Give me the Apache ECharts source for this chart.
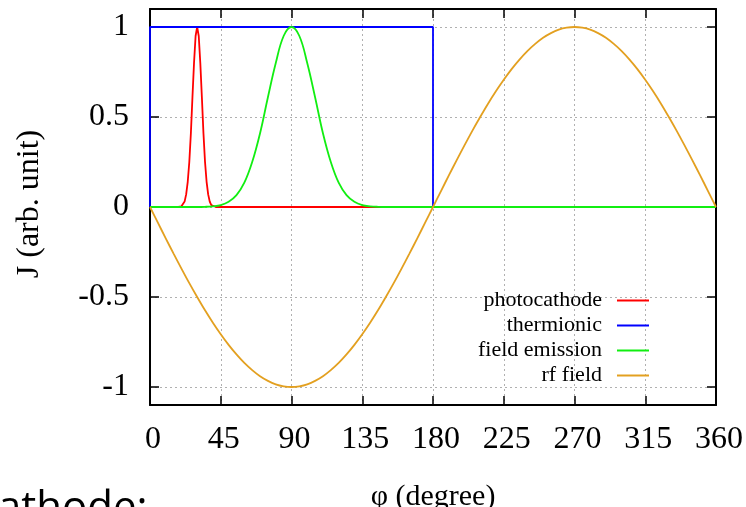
<!DOCTYPE html>
<html>
<head>
<meta charset="utf-8">
<script src="https://cdn.jsdelivr.net/npm/echarts@6/dist/echarts.min.js"></script>
<style>
html,body{margin:0;padding:0;background:#fff;}
#chart{width:746px;height:507px;}
</style>
</head>
<body>
<div id="chart"></div>
<script>
// x ticks (degrees) and y ticks
var xTicks = [0, 45, 90, 135, 180, 225, 270, 315, 360];
var yTicks = [-1, -0.5, 0, 0.5, 1];

// photocathode (narrow pulse near 30 deg)
var photoPhi = [0, 18, 20, 21, 22, 23, 24, 25, 26, 27, 28, 29, 30, 31, 32, 33, 34, 35, 36, 37, 38, 39, 40, 42, 360];
var photoJ   = [0, 0, 0.004, 0.01, 0.03, 0.07, 0.14, 0.25, 0.41, 0.61, 0.80, 0.95, 1, 0.95, 0.80, 0.61, 0.41, 0.25, 0.14, 0.07, 0.03, 0.01, 0.004, 0, 0];

// thermionic (square, 0..180 deg)
var thermPhi = [0, 0, 180, 180, 360];
var thermJ   = [0, 1, 1, 0, 0];

// field emission (broad pulse near 90 deg)
var fieldPhi = [0, 30, 35, 40, 45, 50, 55, 60, 65, 70, 75, 80, 85, 90, 95, 100, 105, 110, 115, 120, 125, 130, 135, 140, 145, 150, 360];
var fieldJ   = [0, 0, 0.001, 0.004, 0.011, 0.029, 0.066, 0.135, 0.25, 0.41, 0.61, 0.80, 0.95, 1, 0.95, 0.80, 0.61, 0.41, 0.25, 0.135, 0.066, 0.029, 0.011, 0.004, 0.001, 0, 0];

// rf field
var rfPhi = [0,5,10,15,20,25,30,35,40,45,50,55,60,65,70,75,80,85,90,95,100,105,110,115,120,125,130,135,140,145,150,155,160,165,170,175,180,
             185,190,195,200,205,210,215,220,225,230,235,240,245,250,255,260,265,270,275,280,285,290,295,300,305,310,315,320,325,330,335,340,345,350,355,360];
var rfJ   = [0,-0.087,-0.174,-0.259,-0.342,-0.423,-0.5,-0.574,-0.643,-0.707,-0.766,-0.819,-0.866,-0.906,-0.940,-0.966,-0.985,-0.996,-1,-0.996,-0.985,-0.966,-0.940,-0.906,-0.866,-0.819,-0.766,-0.707,-0.643,-0.574,-0.5,-0.423,-0.342,-0.259,-0.174,-0.087,0,
             0.087,0.174,0.259,0.342,0.423,0.5,0.574,0.643,0.707,0.766,0.819,0.866,0.906,0.940,0.966,0.985,0.996,1,0.996,0.985,0.966,0.940,0.906,0.866,0.819,0.766,0.707,0.643,0.574,0.5,0.423,0.342,0.259,0.174,0.087,0];

var seriesNames = ['photocathode', 'thermionic', 'field emission', 'rf field'];
var seriesColors = ['#ff0000', '#0000ff', '#11ee11', '#e3a020'];

function pairs(xs, ys) { return xs.map(function (x, i) { return [x, ys[i]]; }); }

var serif = 'Liberation Serif, Times New Roman, serif';
var chart = echarts.init(document.getElementById('chart'));

var gridLine = { show: true, lineStyle: { color: '#b0b0b0', type: [2, 3], width: 1 } };
var border = { show: true, onZero: false, lineStyle: { color: '#000', width: 2 } };

function mkLine(name, xs, ys, idx, smooth) {
  return {
    name: name, type: 'line', data: pairs(xs, ys), showSymbol: false, symbol: 'none',
    smooth: smooth || false, clip: true, animation: false,
    lineStyle: { color: seriesColors[idx], width: 1.8 },
    itemStyle: { color: seriesColors[idx] },
    z: 2 + idx
  };
}

chart.setOption({
  animation: false,
  backgroundColor: '#fff',
  grid: { left: 150, right: 30, top: 9, bottom: 102, containLabel: false },
  xAxis: [
    {
      type: 'value', position: 'bottom', min: 0, max: 360, interval: 45,
      axisLine: border,
      axisTick: { show: true, inside: true, length: 9, lineStyle: { color: '#000', width: 1.5 } },
      axisLabel: { show: true, margin: 19, color: '#000', fontFamily: serif, fontSize: 32, padding: [0, 0, 0, 6] },
      splitLine: gridLine
    },
    {
      type: 'value', position: 'top', min: 0, max: 360, interval: 45,
      axisLine: border,
      axisTick: { show: true, inside: true, length: 9, lineStyle: { color: '#000', width: 1.5 } },
      axisLabel: { show: false },
      splitLine: { show: false }
    }
  ],
  yAxis: [
    {
      type: 'value', position: 'left', min: -1.1, max: 1.1,
      axisLine: border,
      axisTick: { show: true, inside: true, length: 9, customValues: yTicks, lineStyle: { color: '#000', width: 1.5 } },
      axisLabel: { show: true, margin: 21, color: '#000', fontFamily: serif, fontSize: 32, customValues: yTicks,
        formatter: function (v) { return String(v); } },
      splitLine: gridLine
    },
    {
      type: 'value', position: 'right', min: -1.1, max: 1.1,
      axisLine: border,
      axisTick: { show: true, inside: true, length: 9, customValues: yTicks, lineStyle: { color: '#000', width: 1.5 } },
      axisLabel: { show: false, customValues: yTicks },
      splitLine: { show: false }
    }
  ],
  legend: {
    data: seriesNames.map(function (n) { return { name: n, icon: 'rect' }; }),
    orient: 'vertical',
    right: 92, top: 283,
    align: 'right',
    itemWidth: 32, itemHeight: 2, itemGap: 0,
    textStyle: { fontFamily: serif, fontSize: 22, color: '#000', lineHeight: 25, padding: [0, 10, 0, 0] },
    inactiveColor: '#ccc'
  },
  series: [
    mkLine(seriesNames[0], photoPhi, photoJ, 0, false),
    mkLine(seriesNames[1], thermPhi, thermJ, 1, false),
    mkLine(seriesNames[2], fieldPhi, fieldJ, 2, 0.4),
    mkLine(seriesNames[3], rfPhi, rfJ, 3, 0.3)
  ],
  graphic: [
    { type: 'text', x: 30, y: 204, rotation: Math.PI / 2,
      style: { text: 'J (arb. unit)', font: '32px ' + serif, fill: '#000', align: 'center', verticalAlign: 'middle' } },
    { type: 'text', x: 433, y: 482,
      style: { text: '\u03c6 (degree)', font: '30px ' + serif, fill: '#000', align: 'center', verticalAlign: 'top' } },
    { type: 'text', x: -2, y: 509,
      style: { text: 'athode:', font: '42px "Open Sans", sans-serif', fill: '#000', align: 'left', verticalAlign: 'middle' } }
  ]
});
</script>
</body>
</html>
